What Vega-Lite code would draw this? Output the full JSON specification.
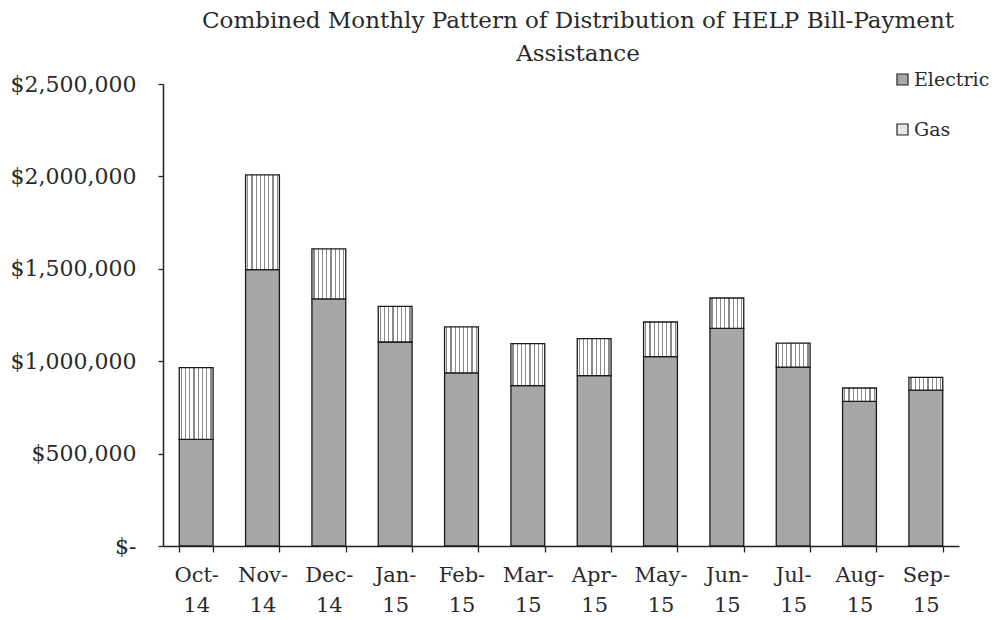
{
  "$schema": "https://vega.github.io/schema/vega-lite/v6.json",
  "width": 796,
  "height": 462,
  "autosize": {"type": "none"},
  "padding": {"left": 163, "top": 84, "right": 37, "bottom": 74},
  "background": "white",
  "config": {
    "view": {"stroke": null},
    "font": "DejaVu Serif"
  },
  "title": {
    "text": ["Combined Monthly Pattern of Distribution of HELP Bill-Payment", "Assistance"],
    "font": "DejaVu Serif",
    "fontSize": 23,
    "fontWeight": "normal",
    "color": "#2a2a2a",
    "lineHeight": 33,
    "anchor": "middle",
    "dx": 17,
    "offset": 4
  },
  "data": {
    "values": [
      {"month": "Oct-14", "type": "Electric", "amount": 577000},
      {"month": "Oct-14", "type": "Gas", "amount": 388000},
      {"month": "Nov-14", "type": "Electric", "amount": 1495000},
      {"month": "Nov-14", "type": "Gas", "amount": 513000},
      {"month": "Dec-14", "type": "Electric", "amount": 1337000},
      {"month": "Dec-14", "type": "Gas", "amount": 271000},
      {"month": "Jan-15", "type": "Electric", "amount": 1104000},
      {"month": "Jan-15", "type": "Gas", "amount": 193000},
      {"month": "Feb-15", "type": "Electric", "amount": 937000},
      {"month": "Feb-15", "type": "Gas", "amount": 249000},
      {"month": "Mar-15", "type": "Electric", "amount": 868000},
      {"month": "Mar-15", "type": "Gas", "amount": 227000},
      {"month": "Apr-15", "type": "Electric", "amount": 922000},
      {"month": "Apr-15", "type": "Gas", "amount": 200000},
      {"month": "May-15", "type": "Electric", "amount": 1025000},
      {"month": "May-15", "type": "Gas", "amount": 187000},
      {"month": "Jun-15", "type": "Electric", "amount": 1178000},
      {"month": "Jun-15", "type": "Gas", "amount": 164000},
      {"month": "Jul-15", "type": "Electric", "amount": 968000},
      {"month": "Jul-15", "type": "Gas", "amount": 130000},
      {"month": "Aug-15", "type": "Electric", "amount": 783000},
      {"month": "Aug-15", "type": "Gas", "amount": 72000},
      {"month": "Sep-15", "type": "Electric", "amount": 843000},
      {"month": "Sep-15", "type": "Gas", "amount": 69000}
    ]
  },
  "mark": {"type": "bar", "stroke": "#1a1a1a", "strokeWidth": 1.3, "cornerRadius": 0},
  "encoding": {
    "x": {
      "field": "month",
      "type": "nominal",
      "sort": null,
      "scale": {"paddingInner": 0.49, "paddingOuter": 0.245},
      "axis": {
        "title": null,
        "labelAngle": 0,
        "labelExpr": "datum.label ? [split(datum.label, '-')[0] + '-', split(datum.label, '-')[1]] : ''",
        "labelFont": "DejaVu Serif",
        "labelFontSize": 21,
        "labelColor": "#2a2a2a",
        "labelLineHeight": 30,
        "labelPadding": 12,
        "tickBand": "extent",
        "tickSize": 6,
        "tickColor": "#222222",
        "tickWidth": 1.3,
        "domainColor": "#222222",
        "domainWidth": 1.5,
        "grid": false
      }
    },
    "y": {
      "field": "amount",
      "type": "quantitative",
      "stack": "zero",
      "scale": {"domain": [0, 2500000], "nice": false},
      "axis": {
        "title": null,
        "values": [0, 500000, 1000000, 1500000, 2000000, 2500000],
        "labelExpr": "datum.value == 0 ? '$-' : format(datum.value, '$,.0f')",
        "labelFont": "DejaVu Serif",
        "labelFontSize": 22,
        "labelColor": "#2a2a2a",
        "labelPadding": 22,
        "tickSize": 5,
        "tickColor": "#222222",
        "tickWidth": 1.3,
        "domainColor": "#222222",
        "domainWidth": 1.5,
        "grid": false
      }
    },
    "order": {"field": "type", "sort": "ascending"},
    "fill": {
      "field": "type",
      "type": "nominal",
      "scale": {"domain": ["Electric", "Gas"], "range": ["#a7a7a7", "#e6e6e6"]},
      "legend": {
        "title": null,
        "orient": "none",
        "legendX": 730,
        "legendY": -14,
        "symbolType": "square",
        "symbolSize": 121,
        "symbolStrokeColor": "#222222",
        "symbolStrokeWidth": 1.2,
        "symbolOpacity": 1,
        "labelFont": "DejaVu Serif",
        "labelFontSize": 19,
        "labelColor": "#2a2a2a",
        "labelOffset": 2,
        "rowPadding": 30,
        "encode": {
          "symbols": {
            "update": {
              "stroke": {"value": "#222222"},
              "strokeWidth": {"value": 1.2},
              "fill": [
                {
                  "test": "datum.value == 'Gas'",
                  "value": {
                    "gradient": "linear",
                    "x1": 0, "x2": 1, "y1": 0, "y2": 0,
                    "stops": [
                      {"offset": 0.0, "color": "#ffffff"},
                      {"offset": 0.3, "color": "#ffffff"},
                      {"offset": 0.3, "color": "#777777"},
                      {"offset": 0.4, "color": "#777777"},
                      {"offset": 0.4, "color": "#ffffff"},
                      {"offset": 0.6, "color": "#ffffff"},
                      {"offset": 0.6, "color": "#777777"},
                      {"offset": 0.7, "color": "#777777"},
                      {"offset": 0.7, "color": "#ffffff"},
                      {"offset": 1.0, "color": "#ffffff"}
                    ]
                  }
                },
                {"value": "#a7a7a7"}
              ]
            }
          }
        }
      },
      "condition": {
        "test": "datum.type == 'Gas'",
        "value": {
          "gradient": "linear",
          "x1": 0, "x2": 1, "y1": 0, "y2": 0,
          "stops": [
            {"offset": 0.0, "color": "#ffffff"},
            {"offset": 0.045, "color": "#ffffff"},
            {"offset": 0.045, "color": "#8a8a8a"},
            {"offset": 0.08, "color": "#8a8a8a"},
            {"offset": 0.08, "color": "#ffffff"},
            {"offset": 0.17, "color": "#ffffff"},
            {"offset": 0.17, "color": "#8a8a8a"},
            {"offset": 0.205, "color": "#8a8a8a"},
            {"offset": 0.205, "color": "#ffffff"},
            {"offset": 0.295, "color": "#ffffff"},
            {"offset": 0.295, "color": "#8a8a8a"},
            {"offset": 0.33, "color": "#8a8a8a"},
            {"offset": 0.33, "color": "#ffffff"},
            {"offset": 0.42, "color": "#ffffff"},
            {"offset": 0.42, "color": "#8a8a8a"},
            {"offset": 0.455, "color": "#8a8a8a"},
            {"offset": 0.455, "color": "#ffffff"},
            {"offset": 0.545, "color": "#ffffff"},
            {"offset": 0.545, "color": "#8a8a8a"},
            {"offset": 0.58, "color": "#8a8a8a"},
            {"offset": 0.58, "color": "#ffffff"},
            {"offset": 0.67, "color": "#ffffff"},
            {"offset": 0.67, "color": "#8a8a8a"},
            {"offset": 0.705, "color": "#8a8a8a"},
            {"offset": 0.705, "color": "#ffffff"},
            {"offset": 0.795, "color": "#ffffff"},
            {"offset": 0.795, "color": "#8a8a8a"},
            {"offset": 0.83, "color": "#8a8a8a"},
            {"offset": 0.83, "color": "#ffffff"},
            {"offset": 0.92, "color": "#ffffff"},
            {"offset": 0.92, "color": "#8a8a8a"},
            {"offset": 0.955, "color": "#8a8a8a"},
            {"offset": 0.955, "color": "#ffffff"},
            {"offset": 1.0, "color": "#ffffff"}
          ]
        }
      }
    }
  }
}
